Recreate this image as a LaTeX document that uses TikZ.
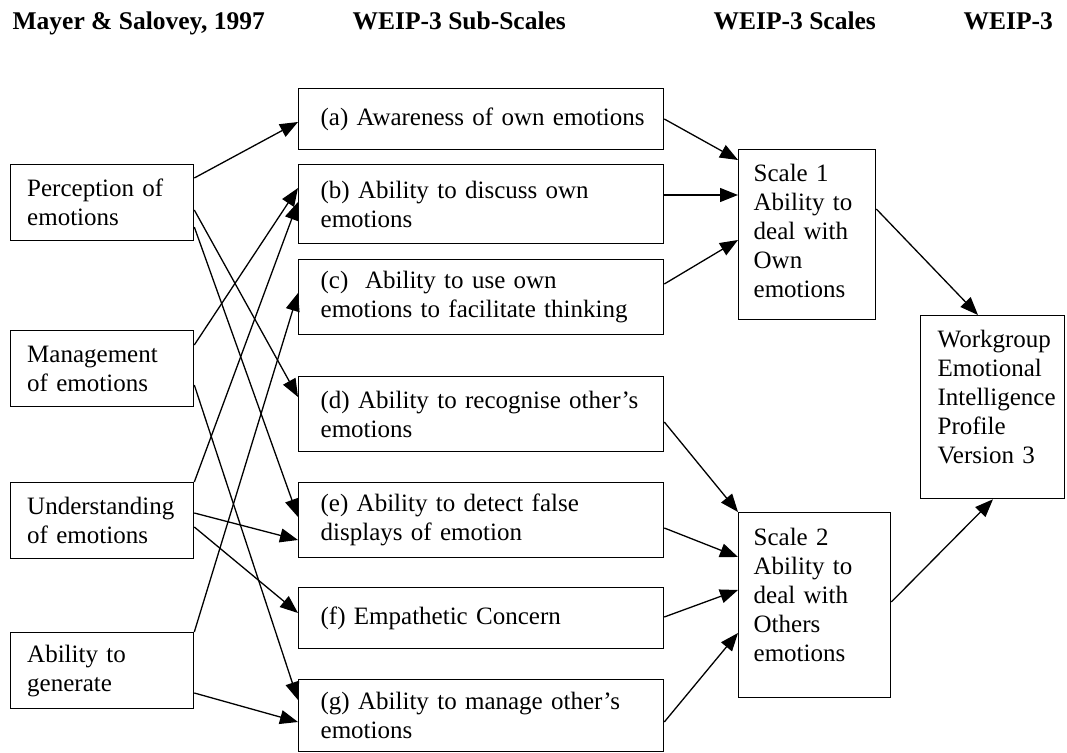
\documentclass[tikz,border=0pt]{standalone}
\usepackage{fontspec}
\setmainfont{Liberation Serif}
\usetikzlibrary{arrows.meta,calc}

\begin{document}
\begin{tikzpicture}[x=0.5pt,y=-0.5pt,>={Triangle[length=9pt,width=7pt]},line width=0.65pt]
\tikzset{box/.style={draw,rectangle,anchor=north west,align=left,inner xsep=2pt,inner ysep=3pt,font=\fontsize{12.5}{14.5}\selectfont},
  lskip/.style={execute at begin node={\leftskip=#1}},
  lbox/.style={box,text width=87.5pt,lskip=6.3pt,minimum height=38pt},
  mbox/.style={box,text width=178.5pt,lskip=9pt},
  hdr/.style={anchor=base west,inner sep=0pt,font=\fontsize{12.75}{15}\selectfont\bfseries}}
\useasboundingbox (0,0) rectangle (1067,753);
% column titles
\node[hdr] (h1) at (12,30) {Mayer \& Salovey, 1997};
\node[hdr] (h2) at (352,30) {WEIP-3 Sub-Scales};
\node[hdr] (h3) at (713,30) {WEIP-3 Scales};
\node[hdr] (h4) at (963,30) {WEIP-3};
% Mayer & Salovey branches
\node[lbox] (pe) at (10,164) {Perception of\\emotions};
\node[lbox] (ma) at (10,330) {Management\\of emotions};
\node[lbox] (un) at (10,482) {Understanding\\of emotions};
\node[lbox] (ge) at (10,632) {Ability to\\generate};
% sub-scales
\node[mbox,minimum height=30.5pt] (a) at (298,88) {(a) Awareness of own emotions};
\node[mbox,minimum height=39.5pt] (b) at (298,164) {(b) Ability to discuss own\\emotions};
\node[mbox,minimum height=37.5pt] (c) at (298,259) {(c)~ Ability to use own\\emotions to facilitate thinking};
\node[mbox,minimum height=37.5pt] (d) at (298,376) {(d) Ability to recognise other's\\emotions};
\node[mbox,minimum height=37.5pt] (e) at (298,482) {(e) Ability to detect false\\displays of emotion};
\node[mbox,minimum height=30.5pt] (f) at (298,587) {(f) Empathetic Concern};
\node[mbox,minimum height=36pt] (g) at (298,679) {(g) Ability to manage other's\\emotions};
% scales
\node[box,text width=64.5pt,lskip=5.5pt,minimum height=85pt,text depth=62pt] (s1) at (738,149) {Scale 1\\Ability to\\deal with\\Own\\emotions};
\node[box,text width=72pt,lskip=5.5pt,minimum height=92.5pt,text depth=68pt] (s2) at (738,512) {Scale 2\\Ability to\\deal with\\Others\\emotions};
\node[box,text width=68pt,lskip=6.5pt,minimum height=91.5pt,text depth=68pt] (weip) at (920,315) {Workgroup\\Emotional\\Intelligence\\Profile\\Version 3};
% branches to sub-scales
\draw[->] ($(pe.north east)+(0,14)$) -- ($(a.north west)+(0,34)$);
\draw[->] ($(pe.north east)+(0,46)$) -- ($(d.north west)+(0,21)$);
\draw[->] ($(pe.north east)+(0,63)$) -- ($(e.north west)+(0,35)$);
\draw[->] ($(ma.north east)+(0,15)$) -- ($(b.north west)+(0,24)$);
\draw[->] ($(ma.north east)+(0,55)$) -- ($(g.north west)+(0,21)$);
\draw[->] (un.north east) -- ($(b.north west)+(0,38)$);
\draw[->] ($(un.north east)+(0,31)$) -- ($(e.north west)+(0,58)$);
\draw[->] ($(un.north east)+(0,45)$) -- ($(f.north west)+(0,26)$);
\draw[->] (ge.north east) -- ($(c.north west)+(0,34)$);
\draw[->] ($(ge.north east)+(0,61)$) -- ($(g.north west)+(0,43)$);
% sub-scales to scales
\draw[->] ($(a.north east)+(0,31)$) -- ($(s1.north west)+(0,11)$);
\draw[->] ($(b.north east)+(0,31)$) -- ($(s1.north west)+(0,46)$);
\draw[->] ($(c.north east)+(0,25)$) -- ($(s1.north west)+(0,91)$);
\draw[->] ($(d.north east)+(0,46)$) -- (s2.north west);
\draw[->] ($(e.north east)+(0,46)$) -- ($(s2.north west)+(0,45)$);
\draw[->] ($(f.north east)+(0,30)$) -- ($(s2.north west)+(0,78)$);
\draw[->] ($(g.north east)+(0,43)$) -- ($(s2.north west)+(0,121)$);
% scales to WEIP-3
\draw[->] ($(s1.north east)+(0,60)$) -- ($(weip.north west)+(58,0)$);
\draw[->] ($(s2.north east)+(0,90)$) -- ($(weip.south west)+(73,0)$);
\end{tikzpicture}
\end{document}
